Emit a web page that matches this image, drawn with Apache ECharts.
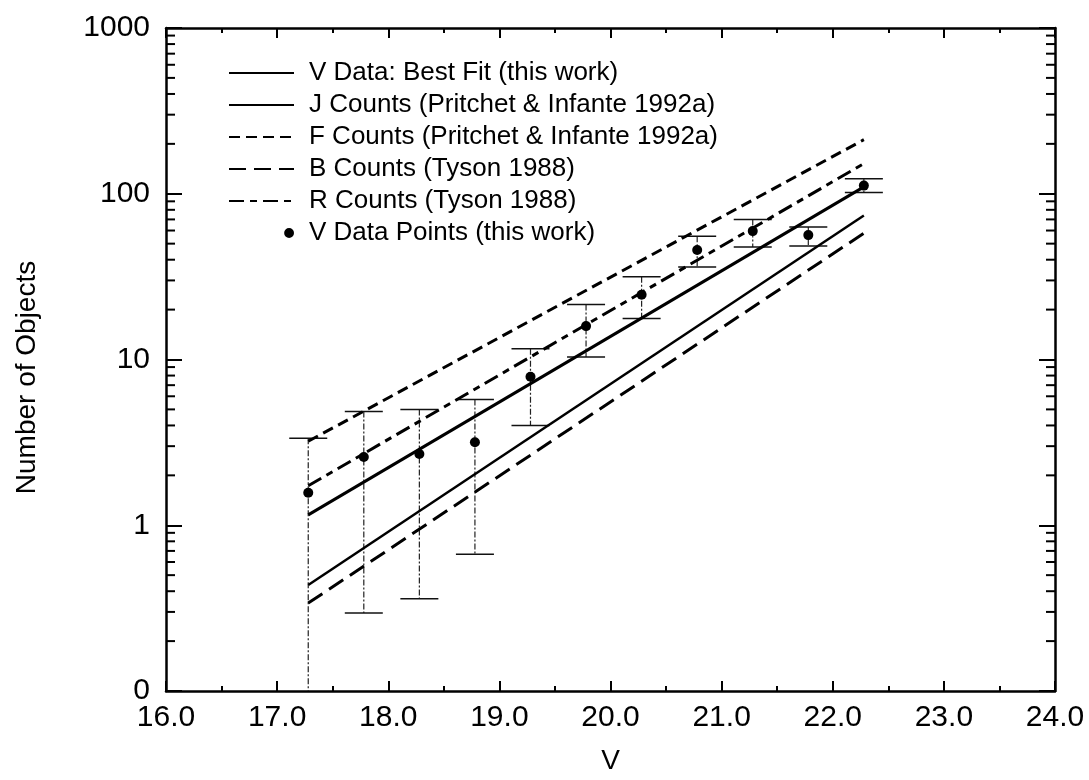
<!DOCTYPE html>
<html>
<head>
<meta charset="utf-8">
<script src="https://cdn.jsdelivr.net/npm/echarts@6/dist/echarts.min.js"></script>
<style>
html,body{margin:0;padding:0;background:#fff;}
#chart{width:1089px;height:780px;}
</style>
</head>
<body>
<div id="chart"></div>
<script>
// ---------- data ----------
const X_MIN = 16, X_MAX = 24;
const Y_MIN = 0.1, Y_MAX = 1000;
const yTickValues = [0.1, 1, 10, 100, 1000];
const yTickLabels = ['0', '1', '10', '100', '1000'];
const yMinorTicks = [0.2,0.3,0.4,0.5,0.6,0.7,0.8,0.9, 2,3,4,5,6,7,8,9, 20,30,40,50,60,70,80,90, 200,300,400,500,600,700,800,900];

const pointX  = [17.28, 17.78, 18.28, 18.78, 19.28, 19.78, 20.28, 20.78, 21.28, 21.78, 22.28];
const pointY  = [1.57, 2.58, 2.69, 3.17, 7.86, 15.9, 24.6, 45.8, 59.5, 56.3, 112];
const errHigh = [3.35, 4.86, 4.99, 5.73, 11.6, 21.5, 31.6, 55.5, 70, 63, 123];
const errLow  = [0.1, 0.296, 0.36, 0.668, 4.0, 10.35, 17.7, 36.2, 47.8, 48.4, 101.6];

const lineX   = [17.28, 22.28];
const vFit    = [1.155, 110];
const jCounts = [0.436, 74];
const fCounts = [3.21, 212];
const bCounts = [0.339, 57.8];
const rCounts = [1.73, 152];

const seriesNames = [
  'V Data: Best Fit (this work)',
  'J Counts (Pritchet & Infante 1992a)',
  'F Counts (Pritchet & Infante 1992a)',
  'B Counts (Tyson 1988)',
  'R Counts (Tyson 1988)',
  'V Data Points (this work)'
];

// ---------- build ----------
const FONT = 'Liberation Sans, Arial, Helvetica, sans-serif';
const pairs = (xs, ys) => xs.map((x, i) => [x, ys[i]]);
const lineSeries = (name, ys, type, width) => ({
  name, type: 'line', data: pairs(lineX, ys), symbol: 'none', showSymbol: false,
  lineStyle: { color: '#000', width: width, type: type }, itemStyle: { color: '#000' },
  z: 3, silent: true
});

const chart = echarts.init(document.getElementById('chart'), null, { renderer: 'canvas' });

const axisCommon = {
  axisLine: { show: true, onZero: false, lineStyle: { color: '#000', width: 2.5 } },
  splitLine: { show: false }
};

const option = {
  animation: false,
  backgroundColor: '#fff',
  grid: { left: 166, right: 34, top: 28, bottom: 83, containLabel: false },
  legend: {
    orient: 'vertical', left: 223, top: 53,
    itemWidth: 65, itemHeight: 10, itemGap: 2,
    data: seriesNames.slice(0, 5).map(n => ({ name: n, itemStyle: { opacity: 0 } })).concat([{
      name: seriesNames[5],
      icon: 'path://M0,5L0.01,5M56,5A5,5 0 1 1 66,5A5,5 0 1 1 56,5Z',
      itemStyle: { opacity: 1, color: '#000' }
    }]),
    textStyle: { fontFamily: FONT, fontSize: 26, color: '#000', lineHeight: 30, padding: [0, 0, 0, 10] },
    selectedMode: false
  },
  xAxis: [
    Object.assign({}, axisCommon, {
      type: 'value', min: X_MIN, max: X_MAX, interval: 1, position: 'bottom',
      name: 'V', nameLocation: 'middle', nameGap: 56,
      nameTextStyle: { fontFamily: FONT, fontSize: 28, color: '#000' },
      axisTick: { show: true, inside: true, length: 10, lineStyle: { color: '#000', width: 2 } },
      minorTick: { show: true, splitNumber: 2, length: 5, lineStyle: { color: '#000', width: 2 } },
      minorSplitLine: { show: false },
      axisLabel: { fontFamily: FONT, fontSize: 30, color: '#000', margin: 12, formatter: v => v.toFixed(1) }
    }),
    Object.assign({}, axisCommon, {
      type: 'value', min: X_MIN, max: X_MAX, interval: 1, position: 'top',
      axisTick: { show: true, inside: true, length: 10, lineStyle: { color: '#000', width: 2 } },
      minorTick: { show: true, splitNumber: 2, length: 5, lineStyle: { color: '#000', width: 2 } },
      minorSplitLine: { show: false },
      axisLabel: { show: false }
    })
  ],
  yAxis: [
    Object.assign({}, axisCommon, {
      type: 'log', logBase: 10, min: Y_MIN, max: Y_MAX, position: 'left',
      name: 'Number of Objects', nameLocation: 'middle', nameGap: 125, nameRotate: 90,
      nameTextStyle: { fontFamily: FONT, fontSize: 28, color: '#000', padding: [0, 36, 0, 0] },
      axisTick: { show: true, inside: true, length: 16, lineStyle: { color: '#000', width: 2 } },
      axisLabel: {
        fontFamily: FONT, fontSize: 30, color: '#000', margin: 16,
        formatter: v => {
          let best = 0;
          yTickValues.forEach((t, i) => { if (Math.abs(Math.log10(t) - Math.log10(v)) < Math.abs(Math.log10(yTickValues[best]) - Math.log10(v))) best = i; });
          return yTickLabels[best];
        }
      }
    }),
    Object.assign({}, axisCommon, {
      type: 'log', logBase: 10, min: Y_MIN, max: Y_MAX, position: 'right',
      axisTick: { show: true, inside: true, length: 16, lineStyle: { color: '#000', width: 2 } },
      axisLabel: { show: false }
    })
  ],
  series: [
    lineSeries(seriesNames[0], vFit, 'solid', 3),
    lineSeries(seriesNames[1], jCounts, 'solid', 2.5),
    lineSeries(seriesNames[2], fCounts, [11, 6], 3),
    lineSeries(seriesNames[3], bCounts, [17, 8], 3),
    lineSeries(seriesNames[4], rCounts, [15, 6, 7, 6], 3),
    {
      name: 'errorbars', type: 'custom', silent: true, z: 2, clip: false,
      data: pointX.map((x, i) => [x, pointY[i], errLow[i], errHigh[i]]),
      encode: { x: 0, y: 1 },
      renderItem: (params, api) => {
        const x = api.value(0), lo = api.value(2), hi = api.value(3);
        const pHi = api.coord([x, hi]);
        const pLo = api.coord([x, Math.max(lo, Y_MIN)]);
        const half = 19;
        const children = [
          { type: 'line', shape: { x1: pHi[0], y1: pHi[1], x2: pLo[0], y2: pLo[1] },
            style: { stroke: '#222', lineWidth: 1.2, lineDash: [6, 2, 2, 2] } },
          { type: 'line', shape: { x1: pHi[0] - half, y1: pHi[1], x2: pHi[0] + half, y2: pHi[1] },
            style: { stroke: '#111', lineWidth: 1.5 } }
        ];
        if (lo > Y_MIN) {
          children.push({ type: 'line', shape: { x1: pLo[0] - half, y1: pLo[1], x2: pLo[0] + half, y2: pLo[1] },
            style: { stroke: '#111', lineWidth: 1.5 } });
        }
        return { type: 'group', children };
      }
    },
    {
      name: 'minorTicks', type: 'custom', silent: true, z: 4, clip: false,
      data: yMinorTicks.map(v => [X_MIN, v]),
      encode: { x: 0, y: 1 },
      renderItem: (params, api) => {
        const v = api.value(1);
        const pl = api.coord([X_MIN, v]);
        const pr = api.coord([X_MAX, v]);
        const len = 9;
        return { type: 'group', children: [
          { type: 'line', shape: { x1: pl[0], y1: pl[1], x2: pl[0] + len, y2: pl[1] }, style: { stroke: '#000', lineWidth: 2 } },
          { type: 'line', shape: { x1: pr[0], y1: pr[1], x2: pr[0] - len, y2: pr[1] }, style: { stroke: '#000', lineWidth: 2 } }
        ] };
      }
    },
    {
      name: seriesNames[5], type: 'scatter', data: pairs(pointX, pointY),
      symbol: 'circle', symbolSize: 10, itemStyle: { color: '#000', opacity: 1 }, z: 5, silent: true
    }
  ]
};
chart.setOption(option);
</script>
</body>
</html>
